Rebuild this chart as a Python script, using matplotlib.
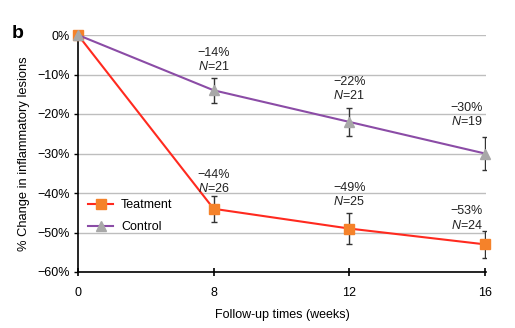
import matplotlib
matplotlib.use("Agg")
import matplotlib.pyplot as plt

weeks = ["0", "8", "12", "16"]
treat = [0, -44, -49, -53]
treat_err = [0, 3.3, 4.0, 3.4]
ctrl = [0, -14, -22, -30]
ctrl_err = [0, 3.2, 3.5, 4.2]
treat_n = [None, 26, 25, 24]
ctrl_n = [None, 21, 21, 19]
yticks = [0, -10, -20, -30, -40, -50, -60]

plt.rcParams['font.family'] = ['Liberation Sans', 'DejaVu Sans']
plt.rcParams['mathtext.fontset'] = 'custom'
plt.rcParams['mathtext.it'] = 'Liberation Sans:italic'
fig = plt.figure(figsize=(5.15, 3.28), dpi=100)
ax = fig.add_axes([78/515, 1-272/328, 408/515, 237/328])
x = list(range(len(weeks)))

red = "#FF2A1F"
orange = "#F5822A"
purple = "#8B4CA6"
gray = "#A8A8A8"
fs = 9

for v in yticks:
    ax.axhline(v, color="#BEBEBE", lw=1.0, zorder=0)

ax.errorbar(x[1:], ctrl[1:], yerr=ctrl_err[1:], fmt="none", ecolor="#333333", elinewidth=1.0, capsize=2.5, capthick=1.0, zorder=2)
ax.errorbar(x[1:], treat[1:], yerr=treat_err[1:], fmt="none", ecolor="#333333", elinewidth=1.0, capsize=2.5, capthick=1.0, zorder=2)

ax.plot(x, treat, color=red, lw=1.5, marker="s", ms=6.5, mfc=orange, mec=orange, label="Teatment", zorder=3, clip_on=False)
ax.plot(x, ctrl, color=purple, lw=1.5, marker="^", ms=6.5, mfc=gray, mec=gray, label="Control", zorder=4, clip_on=False)

def annotate(xi, yv, err, n, dx, extra):
    ax.annotate(f"\u2212{abs(yv)}%", (xi, yv + err), xytext=(dx, 18 + extra), textcoords="offset points",
                ha="center", va="center", fontsize=fs, color="#222222")
    ax.annotate(f"$N$=" + str(n), (xi, yv + err), xytext=(dx, 8 + extra), textcoords="offset points",
                ha="center", va="center", fontsize=fs, color="#222222")

ctrl_shift = [0, 0, 1, 3]
treat_shift = [0, -3, 0, -4]
for i in range(1, len(weeks)):
    last = i == len(weeks) - 1
    dx = -13 if last else 0
    annotate(x[i], ctrl[i], ctrl_err[i], ctrl_n[i], dx, ctrl_shift[i])
    annotate(x[i], treat[i], treat_err[i], treat_n[i], dx, treat_shift[i])

ax.set_xlim(0, 3.008)
ax.set_ylim(-60, 0)
ax.set_xticks(x)
ax.set_xticklabels(weeks)
ax.set_yticks(yticks)
ax.set_yticklabels([("\u2212" if v < 0 else "") + f"{abs(v)}%" for v in yticks])
for s in ["top", "right"]:
    ax.spines[s].set_visible(False)
ax.spines["left"].set_linewidth(1.2)
ax.spines["bottom"].set_linewidth(1.2)
ax.tick_params(axis="x", direction="inout", length=6, width=1.2, labelsize=fs, pad=8)
ax.tick_params(axis="y", direction="out", length=3, width=1.0, labelsize=fs, pad=3)
ax.set_xlabel("Follow-up times (weeks)", fontsize=fs, labelpad=7)
ax.set_ylabel("% Change in inflammatory lesions", fontsize=9.3, labelpad=5)

ax.legend(loc="upper left", bbox_to_anchor=(-0.002, 0.355), frameon=False, fontsize=fs,
          handlelength=2.0, labelspacing=0.8, handletextpad=0.6)

fig.text(12/515, 1-34/328, "b", fontsize=14, fontweight="bold", va="center", ha="left")

fig.savefig("out.png", dpi=100)
